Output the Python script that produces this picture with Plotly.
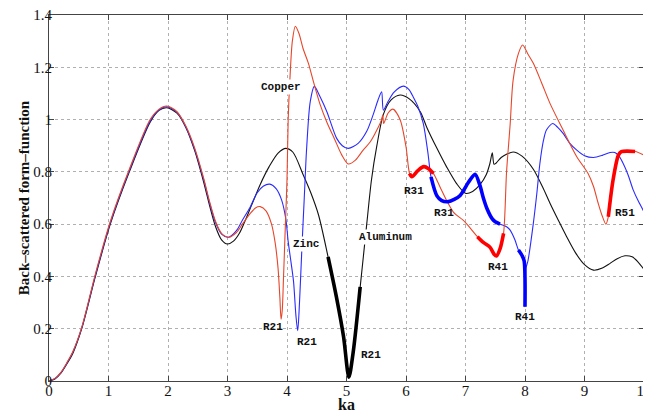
import plotly.graph_objects as go

# ---------------- data ----------------
ka_al = [0, 0.1, 0.2, 0.3, 0.4, 0.55, 0.78, 1.03, 1.35, 1.7, 1.85, 1.98, 2.15, 2.3, 2.45,
         2.6, 2.7, 2.8, 2.9, 3.0, 3.1, 3.2, 3.3, 3.4, 3.55, 3.7, 3.85, 3.98, 4.1, 4.27,
         4.4, 4.53, 4.69, 4.83, 4.95, 5.04, 5.11, 5.23, 5.34, 5.42, 5.51, 5.62, 5.75,
         5.9, 6.05, 6.24, 6.35, 6.52, 6.68, 6.85, 7.0, 7.12, 7.24, 7.35, 7.41, 7.45,
         7.48, 7.52, 7.6, 7.8, 7.95, 8.14, 8.3, 8.42, 8.56, 8.7, 8.85, 9.0, 9.15, 9.3,
         9.43, 9.55, 9.68, 9.8, 9.9, 10.0]
ff_al = [0, 0.008, 0.03, 0.065, 0.105, 0.2, 0.4, 0.6, 0.8, 0.99, 1.035, 1.045, 1.025,
         0.97, 0.88, 0.76, 0.67, 0.59, 0.54, 0.524, 0.535, 0.565, 0.615, 0.67, 0.752,
         0.82, 0.872, 0.89, 0.875, 0.79, 0.72, 0.635, 0.475, 0.322, 0.17, 0.015, 0.106,
         0.36, 0.6, 0.77, 0.9, 1.02, 1.075, 1.094, 1.08, 1.03, 0.97, 0.89, 0.82, 0.755,
         0.718, 0.725, 0.75, 0.79, 0.832, 0.873, 0.829, 0.835, 0.855, 0.876, 0.86, 0.81,
         0.74, 0.68, 0.615, 0.552, 0.49, 0.445, 0.424, 0.432, 0.45, 0.468, 0.479, 0.475,
         0.455, 0.427]

ka_cu = [0, 0.1, 0.2, 0.3, 0.4, 0.55, 0.78, 1.03, 1.35, 1.7, 1.85, 1.98, 2.15, 2.3, 2.45,
         2.6, 2.7, 2.8, 2.9, 3.02, 3.15, 3.25, 3.38, 3.47, 3.55, 3.65, 3.74, 3.8, 3.85,
         3.88, 3.9, 3.92, 3.94, 3.97, 4.0, 4.02, 4.05, 4.09, 4.14, 4.2, 4.27, 4.36, 4.45,
         4.55, 4.67, 4.8, 4.92, 5.03, 5.15, 5.28, 5.4, 5.51, 5.59, 5.61, 5.625, 5.7, 5.78,
         5.9, 6.0, 6.06, 6.1, 6.2, 6.3, 6.38, 6.46, 6.57, 6.68, 6.8, 6.96, 7.08, 7.2, 7.3,
         7.41, 7.48, 7.52, 7.58, 7.64, 7.69, 7.75, 7.8, 7.89, 7.96, 8.05, 8.14, 8.28,
         8.42, 8.64, 8.87, 9.06, 9.15, 9.23, 9.3, 9.36, 9.4, 9.48, 9.57, 9.62, 9.85, 10.0]
ff_cu = [0, 0.01, 0.033, 0.07, 0.112, 0.205, 0.41, 0.61, 0.81, 1.0, 1.04, 1.052, 1.03,
         0.975, 0.89, 0.775, 0.685, 0.61, 0.565, 0.55, 0.568, 0.6, 0.64, 0.662, 0.667,
         0.65, 0.6, 0.53, 0.43, 0.32, 0.236, 0.27, 0.386, 0.58, 0.77, 1.0, 1.16, 1.3,
         1.357, 1.33, 1.272, 1.215, 1.14, 1.062, 0.99, 0.925, 0.865, 0.83, 0.845, 0.883,
         0.915, 0.96, 1.0, 1.017, 0.985, 1.025, 1.04, 1.0, 0.896, 0.794, 0.781, 0.805,
         0.82, 0.812, 0.794, 0.743, 0.692, 0.645, 0.615, 0.585, 0.552, 0.53, 0.512,
         0.485, 0.478, 0.505, 0.565, 0.8, 0.98, 1.15, 1.253, 1.285, 1.25, 1.215, 1.14,
         1.062, 0.96, 0.858, 0.794, 0.745, 0.68, 0.63, 0.6, 0.628, 0.769, 0.864, 0.877,
         0.878, 0.864]

ka_zn = [0, 0.1, 0.2, 0.3, 0.4, 0.55, 0.78, 1.03, 1.35, 1.7, 1.85, 1.98, 2.15, 2.3, 2.45,
         2.6, 2.7, 2.8, 2.9, 3.02, 3.15, 3.25, 3.38, 3.5, 3.6, 3.71, 3.82, 3.91, 3.98,
         4.02, 4.07, 4.11, 4.15, 4.18, 4.21, 4.25, 4.29, 4.33, 4.39, 4.46, 4.55, 4.67,
         4.835, 4.93, 5.03, 5.2, 5.34, 5.45, 5.53, 5.59, 5.62, 5.7, 5.8, 5.955, 6.05,
         6.12, 6.2, 6.29, 6.37, 6.42, 6.52, 6.6, 6.71, 6.81, 6.91, 7.05, 7.16, 7.24, 7.3,
         7.36, 7.45, 7.5, 7.58, 7.69, 7.75, 7.83, 7.89, 7.95, 7.985, 8.0, 8.015, 8.05,
         8.14, 8.2, 8.25, 8.31, 8.36, 8.465, 8.55, 8.64, 8.75, 8.87, 9.0, 9.15, 9.3, 9.43,
         9.51, 9.58, 9.65, 9.73, 9.82, 9.9, 10.0]
ff_zn = [0, 0.009, 0.032, 0.068, 0.11, 0.203, 0.405, 0.605, 0.805, 0.995, 1.037, 1.049,
         1.028, 0.972, 0.885, 0.77, 0.68, 0.605, 0.562, 0.55, 0.575, 0.615, 0.665, 0.72,
         0.745, 0.753, 0.735, 0.692, 0.62, 0.533, 0.45, 0.38, 0.25, 0.192, 0.3, 0.507,
         0.7, 0.89, 1.068, 1.127, 1.09, 1.03, 0.928, 0.9, 0.89, 0.91, 0.955, 1.02, 1.075,
         1.106, 1.036, 1.07, 1.105, 1.128, 1.115, 1.087, 1.05, 0.985, 0.87, 0.781, 0.708,
         0.69, 0.686, 0.695, 0.71, 0.76, 0.791, 0.75, 0.7, 0.66, 0.62, 0.609, 0.6, 0.59,
         0.577, 0.54, 0.501, 0.48, 0.46, 0.284, 0.43, 0.46, 0.603, 0.72, 0.832, 0.92,
         0.96, 0.985, 0.97, 0.947, 0.91, 0.883, 0.862, 0.855, 0.863, 0.874, 0.874, 0.86,
         0.832, 0.79, 0.73, 0.69, 0.647]

# highlighted resonance intervals (ka ranges)
thick_al = [(4.69, 5.23)]
thick_cu = [(6.06, 6.46), (7.2, 7.64), (9.4, 9.85)]
thick_zn = [(6.42, 7.58), (7.89, 8.0)]

x_ticks = [0, 1, 2, 3, 4, 5, 6, 7, 8, 9, 10]
y_ticks = [0, 0.2, 0.4, 0.6, 0.8, 1.0, 1.2, 1.4]
y_ticktext = ["0", "0.2", "0.4", "0.6", "0.8", "1", "1.2", "1.4"]

labels = [  # text, ka, value, background
    ("Copper", 3.90, 1.124, True),
    ("Zinc", 4.32, 0.525, True),
    ("Aluminum", 5.65, 0.552, True),
    ("R21", 3.77, 0.206, False),
    ("R21", 4.33, 0.15, False),
    ("R21", 5.41, 0.10, False),
    ("R31", 6.13, 0.727, False),
    ("R31", 6.64, 0.641, False),
    ("R41", 7.55, 0.437, False),
    ("R41", 8.00, 0.246, False),
    ("R51", 9.68, 0.641, False),
]

x_title = "ka"
y_title = "Back–scattered form–function"

SERIF = "Liberation Serif"
MONO = "Liberation Mono"

# ---------------- figure ----------------
def subset(xs, ys, a, b):
    px, py = [], []
    for xv, yv in zip(xs, ys):
        if a - 1e-9 <= xv <= b + 1e-9:
            px.append(xv)
            py.append(yv)
    return px, py

fig = go.Figure()
thin = [(ka_al, ff_al, "#111111"), (ka_zn, ff_zn, "#2a2aff"), (ka_cu, ff_cu, "#e6462a")]
for xs, ys, col in thin:
    fig.add_trace(go.Scatter(x=xs, y=ys, mode="lines",
                             line=dict(color=col, width=1.1, shape="spline", smoothing=0.8),
                             showlegend=False, hoverinfo="skip"))

for xs, ys, rngs, col in [(ka_al, ff_al, thick_al, "#000000"),
                          (ka_zn, ff_zn, thick_zn, "#0000ff"),
                          (ka_cu, ff_cu, thick_cu, "#ff0000")]:
    for a, b in rngs:
        px, py = subset(xs, ys, a, b)
        fig.add_trace(go.Scatter(x=px, y=py, mode="lines",
                                 line=dict(color=col, width=3.6, shape="spline", smoothing=0.8),
                                 showlegend=False, hoverinfo="skip"))

for txt, xv, yv, bg in labels:
    fig.add_annotation(x=xv, y=yv, text="<b>" + txt + "</b>", showarrow=False,
                       font=dict(family=MONO, size=11, color="#111"),
                       bgcolor="white" if bg else "rgba(0,0,0,0)", borderpad=1)

# x-axis title, placed just under the tick labels
fig.add_annotation(x=0.5, xref="paper", y=-0.063, yref="paper", yanchor="middle",
                   text="<b>" + x_title + "</b>", showarrow=False,
                   font=dict(family=SERIF, size=16, color="#111"))

axis_common = dict(showline=True, linecolor="#444", linewidth=1, mirror="ticks",
                   ticks="inside", ticklen=5, tickcolor="#444", automargin=False,
                   ticklabeloverflow="allow",
                   showgrid=True, gridcolor="#b0b0b0", griddash="dot", gridwidth=1,
                   zeroline=False,
                   tickfont=dict(family=SERIF, size=15, color="#111"))

fig.update_xaxes(range=[0, 10], tickvals=x_ticks, ticktext=[str(t) for t in x_ticks],
                 ticklabelstandoff=-4,
                 **axis_common)
fig.update_yaxes(range=[0, 1.4], tickvals=y_ticks, ticktext=y_ticktext,
                 title=dict(text="<b>" + y_title + "</b>", standoff=0,
                            font=dict(family=SERIF, size=15, color="#111")),
                 ticklabelstandoff=-7,
                 **axis_common)

# the page body keeps the browser's default 8px margin, so the plot area is
# placed so that it lands where the reference has it inside the 651x412 window
fig.update_layout(width=651, height=412, margin=dict(l=41, r=15, t=7, b=39),
                  plot_bgcolor="white", paper_bgcolor="white",
                  font=dict(family=SERIF))

fig.write_html("out.html")
